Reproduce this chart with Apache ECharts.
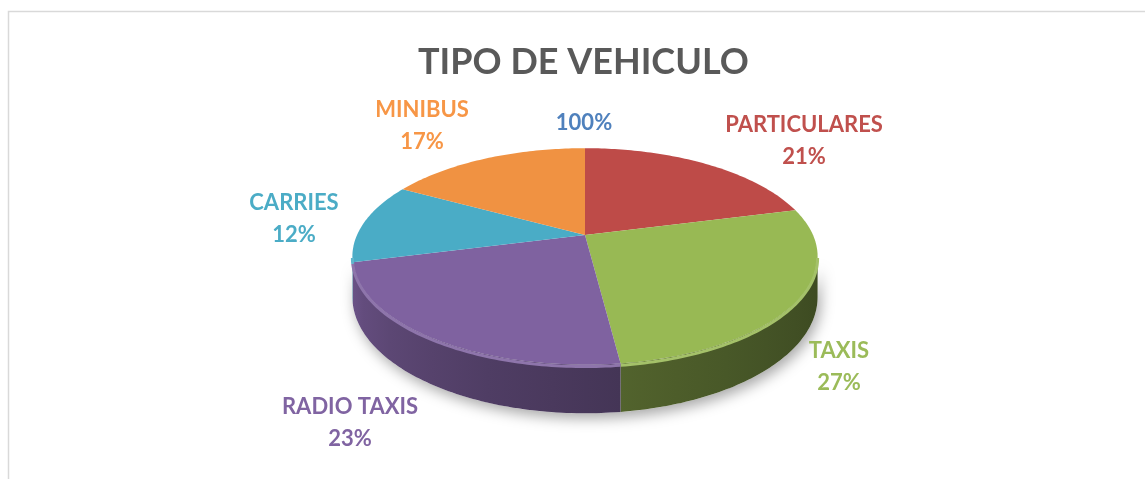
<!DOCTYPE html>
<html>
<head>
<meta charset="utf-8">
<script src="https://cdn.jsdelivr.net/npm/echarts@6/dist/echarts.min.js"></script>
<style>
  html, body { margin: 0; padding: 0; background: #fff; }
  #chart { width: 1145px; height: 479px; }
</style>
</head>
<body>
<div id="chart"></div>
<script>
// datos del grafico
const categories = ['PARTICULARES', 'TAXIS', 'RADIO TAXIS', 'CARRIES', 'MINIBUS']
const shares = [21, 27, 23, 12, 17]
const sliceColors = ['#BE4B48', '#98B954', '#7F62A0', '#4AACC6', '#F09242']
const labelColors = ['#C0504D', '#9BBB59', '#8064A2', '#4BACC6', '#F79646']

// layout of the fake 3d pie (pixels)
const CX = 585, CY = 235     // hub
const A = 228, E = 104       // horizontal / depth radius
const C = 0.198              // perspective
const K = 39                 // thickness
const FONT = 'Lato, "Open Sans", sans-serif'
// label block centres, relative to the hub
const labelOffsets = [[219, -94], [254, 132], [-235, 188], [-291, -16], [-163, -109]]

const TAU = Math.PI * 2
const total = shares.reduce((s, v) => s + v, 0)
const starts = []
shares.reduce((s, v) => { starts.push(s); return s + v }, 0)
const VIS0 = Math.PI / 2 + Math.asin(C)
const VIS1 = TAU - VIS0

function project (t, drop) {
  const X = Math.sin(t), Y = Math.cos(t)
  const d = 1 + C * Y
  return [CX + A * X / d, CY - E * Y / d + (drop || 0) / d]
}
function arc (a, b, drop) {
  const n = Math.max(2, Math.ceil((b - a) / (Math.PI / 180)))
  const pts = []
  for (let k = 0; k <= n; k++) pts.push(project(a + (b - a) * k / n, drop))
  return pts
}
function shadeColor (hex, f) {
  const n = parseInt(hex.slice(1), 16)
  const r = Math.round(((n >> 16) & 255) * f)
  const g = Math.round(((n >> 8) & 255) * f)
  const b = Math.round((n & 255) * f)
  return 'rgb(' + r + ',' + g + ',' + b + ')'
}
function mixWhite (hex, f) {
  const n = parseInt(hex.slice(1), 16)
  const ch = [(n >> 16) & 255, (n >> 8) & 255, n & 255].map(c => Math.round(c + (255 - c) * f))
  return 'rgb(' + ch.join(',') + ')'
}
function wallFactor (t) {
  const u = Math.min(1, Math.max(0, (t - VIS0) / (VIS1 - VIS0)))
  return 0.4 + 0.45 * Math.pow(u, 1.5)
}

function renderItem (params, api) {
  const i = params.dataIndex
  const a0 = starts[i] / total * TAU
  const a1 = (starts[i] + api.value(0)) / total * TAU
  const children = []

  if (i === 0) {
    const band = arc(VIS0, VIS1, 0).concat(arc(VIS0, VIS1, K).reverse())
    children.push({
      type: 'polygon', z2: 0, shape: { points: band },
      style: { fill: '#fff', shadowBlur: 14, shadowColor: 'rgba(0,0,0,0.35)', shadowOffsetX: 3, shadowOffsetY: 5 }
    })
  }

  // side wall (only the front part can be seen)
  const w0 = Math.max(a0, VIS0), w1 = Math.min(a1, VIS1)
  if (w1 > w0) {
    const top = arc(w0, w1, 0)
    const pts = top.concat(arc(w0, w1, K).reverse())
    const xs = pts.map(p => p[0])
    const xmin = Math.min(...xs), xmax = Math.max(...xs)
    const stops = []
    for (let k = 0; k <= 6; k++) {
      const t = w0 + (w1 - w0) * k / 6
      const off = (project(t, 0)[0] - xmin) / (xmax - xmin || 1)
      stops.push({ offset: Math.min(1, Math.max(0, off)), color: shadeColor(sliceColors[i], wallFactor(t)) })
    }
    stops.sort((p, q) => p.offset - q.offset)
    children.push({
      type: 'polygon', z2: 1, shape: { points: pts },
      style: { fill: { type: 'linear', x: 0, y: 0, x2: 1, y2: 0, colorStops: stops } }
    })
    children.push({
      type: 'polyline', z2: 11, shape: { points: arc(w0, w1, 1.5) },
      style: { stroke: mixWhite(sliceColors[i], 0.12), lineWidth: 3, fill: null }
    })
  }

  // top face
  children.push({
    type: 'polygon', z2: 10,
    shape: { points: [[CX, CY]].concat(arc(a0, a1, 0)) },
    style: { fill: sliceColors[i] }
  })

  // label
  const pct = Math.round(api.value(0) / total * 100) + '%'
  children.push({
    type: 'text', z2: 20,
    style: {
      text: categories[i] + '\n' + pct,
      x: CX + labelOffsets[i][0], y: CY + labelOffsets[i][1],
      align: 'center', verticalAlign: 'middle',
      font: 'bold 22px ' + FONT, lineHeight: 32,
      fill: labelColors[i]
    }
  })
  return { type: 'group', children: children }
}

const chart = echarts.init(document.getElementById('chart'))
chart.setOption({
  animation: false,
  title: {
    text: 'TIPO DE VEHICULO',
    left: 413,
    top: 39,
    textStyle: { fontFamily: FONT, fontSize: 36, fontWeight: 'bold', color: '#595959' }
  },
  graphic: [
    {
      type: 'rect', silent: true,
      shape: { x: 8.5, y: 11.5, width: 1400, height: 600 },
      style: { fill: null, stroke: '#D9D9D9', lineWidth: 1.5 }
    },
    {
      type: 'text', x: 584, y: 123,
      style: {
        text: Math.round(total / total * 100) + '%', font: 'bold 22px ' + FONT,
        fill: '#4F81BD', align: 'center', verticalAlign: 'middle'
      }
    }
  ],
  series: [
    {
      type: 'custom',
      coordinateSystem: 'none',
      renderItem: renderItem,
      data: shares.map((v, i) => ({ name: categories[i], value: v }))
    }
  ]
})
</script>
</body>
</html>
